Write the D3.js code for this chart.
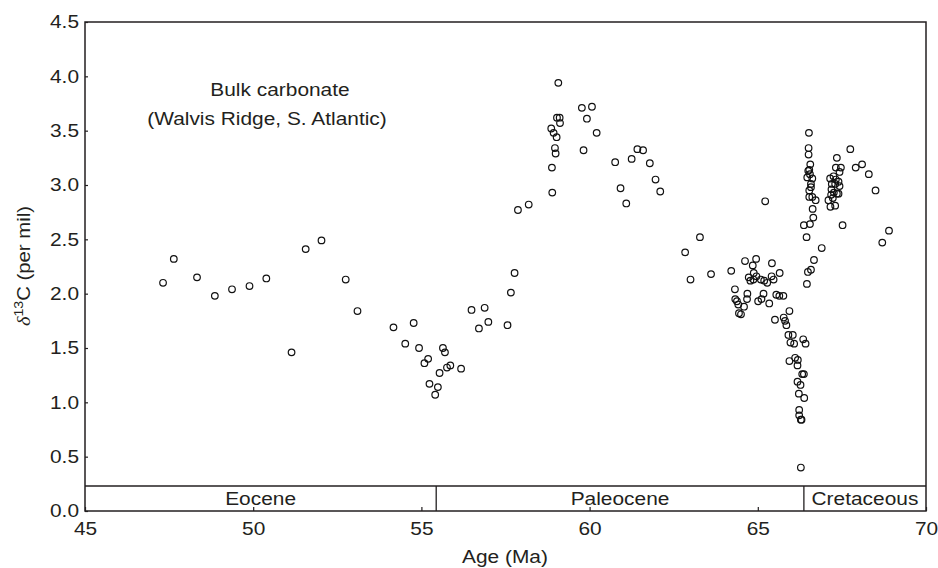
<!DOCTYPE html>
<meta charset="utf-8">
<style>
  body { margin: 0; background: #fff; }
  text { font-family: "Liberation Sans", Arial, sans-serif; fill: #231f20; }
</style>
<body>
<script src="https://d3js.org/d3.v7.min.js"></script>
<script>

var width = 938,
    height = 568;

// sample ages (Ma) and bulk carbonate d13C (per mil)
var ages = [
  47.32, 47.64, 48.33, 48.86, 49.37, 49.89, 50.39, 51.14, 51.56, 52.03,
  52.75, 53.10, 54.17, 54.52, 54.77, 54.93, 55.09, 55.20, 55.24, 55.41,
  55.49, 55.54, 55.64, 55.70, 55.76, 55.86, 56.18, 56.49, 56.71, 56.88,
  56.99, 57.56, 57.66, 57.77, 57.87, 58.19,
  58.86, 58.88, 58.89, 58.93, 58.97, 58.99, 59.02, 59.03, 59.07, 59.11,
  59.12, 59.77, 59.82, 59.92, 60.07, 60.21, 60.76, 60.92, 61.09, 61.25,
  61.42, 61.59, 61.79, 61.96, 62.10, 62.84, 63.00, 63.28, 63.61, 64.21,
  64.32, 64.33, 64.38, 64.42, 64.44, 64.50, 64.59, 64.62, 64.68, 64.69,
  64.73, 64.78, 64.85, 64.87, 64.88, 64.95, 64.96, 65.01, 65.09, 65.11,
  65.17, 65.19, 65.22, 65.28, 65.34, 65.41, 65.42, 65.47, 65.51, 65.55,
  65.64, 65.65, 65.76, 65.77, 65.81, 65.85, 65.91, 65.94, 65.94, 65.97,
  66.04, 66.08, 66.11, 66.18, 66.18, 66.19, 66.22, 66.23, 66.23, 66.27,
  66.28, 66.30, 66.28, 66.32, 66.35, 66.37, 66.38, 66.42,
  66.37, 66.45, 66.46, 66.47, 66.49, 66.50, 66.51, 66.51, 66.52, 66.53,
  66.53, 66.53, 66.55, 66.55, 66.56, 66.58, 66.58, 66.58, 66.62, 66.62,
  66.63, 66.65, 66.67, 66.72, 66.90,
  67.10, 67.15, 67.16, 67.18, 67.19, 67.20, 67.23, 67.25, 67.26, 67.30,
  67.30, 67.32, 67.32, 67.35, 67.35, 67.40, 67.40, 67.43, 67.43, 67.47,
  67.52, 67.75, 67.91, 68.10, 68.30, 68.50, 68.70, 68.90
];

var d13c = [
  2.10, 2.32, 2.15, 1.98, 2.04, 2.07, 2.14, 1.46, 2.41, 2.49,
  2.13, 1.84, 1.69, 1.54, 1.73, 1.50, 1.36, 1.40, 1.17, 1.07,
  1.14, 1.27, 1.50, 1.46, 1.32, 1.34, 1.31, 1.85, 1.68, 1.87,
  1.74, 1.71, 2.01, 2.19, 2.77, 2.82,
  3.52, 3.16, 2.93, 3.48, 3.34, 3.29, 3.44, 3.62, 3.94, 3.62,
  3.57, 3.71, 3.32, 3.61, 3.72, 3.48, 3.21, 2.97, 2.83, 3.24,
  3.33, 3.32, 3.20, 3.05, 2.94, 2.38, 2.13, 2.52, 2.18, 2.21,
  2.04, 1.95, 1.93, 1.90, 1.82, 1.81, 1.88, 2.30, 1.95, 2.00,
  2.15, 2.12, 2.26, 2.13, 2.19, 2.32, 2.16, 1.93, 2.13, 1.95,
  2.00, 2.12, 2.85, 2.10, 1.91, 2.16, 2.28, 2.13, 1.76, 1.99,
  1.98, 2.19, 1.98, 1.78, 1.75, 1.71, 1.62, 1.84, 1.38, 1.55,
  1.62, 1.54, 1.41, 1.34, 1.19, 1.39, 1.08, 0.93, 0.88, 1.16,
  0.84, 0.84, 0.40, 1.26, 1.58, 1.26, 1.04, 1.54,
  2.63, 2.52, 2.09, 3.07, 2.20, 3.13, 3.34, 3.28, 3.48, 3.14,
  2.95, 2.89, 3.10, 2.64, 3.19, 3.01, 2.98, 2.22, 3.06, 2.89,
  2.78, 2.70, 2.31, 2.86, 2.42,
  2.86, 3.06, 2.80, 2.91, 2.96, 3.01, 2.88, 3.08, 2.93, 3.01,
  2.81, 3.16, 3.05, 3.25, 2.92, 3.03, 2.92, 3.12, 2.99, 3.16,
  2.63, 3.33, 3.16, 3.19, 3.10, 2.95, 2.47, 2.58
];

var epochNames = ["Eocene", "Paleocene", "Cretaceous"];
var epochStart = [45, 55.44, 66.37];
var epochEnd = [55.44, 66.37, 70];

var xTicks = [45, 50, 55, 60, 65, 70];
var yTicks = [0, 0.5, 1, 1.5, 2, 2.5, 3, 3.5, 4, 4.5];

var margin = {top: 22, right: 12, bottom: 57, left: 85};

var svg = d3.select("body").append("svg")
    .attr("width", width)
    .attr("height", height);

var x = d3.scaleLinear().domain([45, 70]).range([margin.left, width - margin.right]);
var y = d3.scaleLinear().domain([0, 4.5]).range([height - margin.bottom, margin.top]);

var ink = "#231f20";
var wide = 1.13; // the printed lettering is a bit wider than it is tall

// stretch a text horizontally around its own x,y
function stretch(sel) {
  sel.attr("transform", function() {
    var tx = +this.getAttribute("x") || 0,
        ty = +this.getAttribute("y") || 0;
    return "translate(" + tx + "," + ty + ") scale(" + wide + ",1) translate(" + (-tx) + "," + (-ty) + ")";
  });
}

// epoch band along the bottom
var bandTop = y(0.23);
svg.append("line")
    .attr("x1", x(45)).attr("x2", x(70))
    .attr("y1", bandTop).attr("y2", bandTop)
    .attr("stroke", ink).attr("stroke-width", 1.3);

svg.selectAll(".epoch-sep")
  .data(epochStart.slice(1))
  .enter().append("line")
    .attr("x1", function(d) { return x(d); })
    .attr("x2", function(d) { return x(d); })
    .attr("y1", bandTop).attr("y2", y(0))
    .attr("stroke", ink).attr("stroke-width", 1.3);

svg.selectAll(".epoch-label")
  .data(epochNames)
  .enter().append("text")
    .attr("x", function(d, i) { return (x(epochStart[i]) + x(epochEnd[i])) / 2; })
    .attr("y", y(0) - 6)
    .attr("text-anchor", "middle")
    .style("font-size", "18.5px")
    .text(function(d) { return d; })
    .call(stretch);

// axes (ticks point inward)
var xAxis = svg.append("g")
    .attr("transform", "translate(0," + y(0) + ")")
    .call(d3.axisBottom(x).tickValues(xTicks).tickSize(-4).tickPadding(11).tickFormat(d3.format("d")));

var yAxis = svg.append("g")
    .attr("transform", "translate(" + x(45) + ",0)")
    .call(d3.axisLeft(y).tickValues(yTicks).tickSize(-3).tickPadding(6).tickFormat(d3.format(".1f")));

[xAxis, yAxis].forEach(function(g) {
  g.select(".domain").remove();
  g.selectAll(".tick line").attr("stroke", ink).attr("stroke-width", 1.2);
  g.selectAll(".tick text")
    .attr("fill", ink)
    .style("font-family", "'Liberation Sans', Arial, sans-serif")
    .style("font-size", "18.5px")
    .call(stretch);
});

// frame
svg.append("rect")
    .attr("x", x(45)).attr("y", y(4.5))
    .attr("width", x(70) - x(45)).attr("height", y(0) - y(4.5))
    .attr("fill", "none").attr("stroke", ink).attr("stroke-width", 1.5);

// data points
svg.selectAll(".pt")
  .data(ages)
  .enter().append("circle")
    .attr("cx", function(d) { return x(d); })
    .attr("cy", function(d, i) { return y(d13c[i]); })
    .attr("r", 3.3)
    .attr("fill", "none")
    .attr("stroke", "#111")
    .attr("stroke-width", 1.2);

// annotation
svg.append("text")
    .attr("x", 280).attr("y", 96)
    .attr("text-anchor", "middle")
    .style("font-size", "18.5px")
    .text("Bulk carbonate")
    .call(stretch);

svg.append("text")
    .attr("x", 267).attr("y", 125)
    .attr("text-anchor", "middle")
    .style("font-size", "18.5px")
    .text("(Walvis Ridge, S. Atlantic)")
    .call(stretch);

// axis titles
svg.append("text")
    .attr("x", 505)
    .attr("y", 563)
    .attr("text-anchor", "middle")
    .style("font-size", "18.5px")
    .text("Age (Ma)")
    .call(stretch);

var yl = svg.append("text")
    .attr("transform", "translate(30,266) rotate(-90) scale(" + wide + ",1)")
    .attr("text-anchor", "middle")
    .style("font-size", "18px");
yl.append("tspan").style("font-style", "italic").style("font-family", "'Liberation Serif', serif").text("δ");
yl.append("tspan").attr("dy", -7).style("font-size", "12.5px").text("13");
yl.append("tspan").attr("dy", 7).text("C (per mil)");

</script>
